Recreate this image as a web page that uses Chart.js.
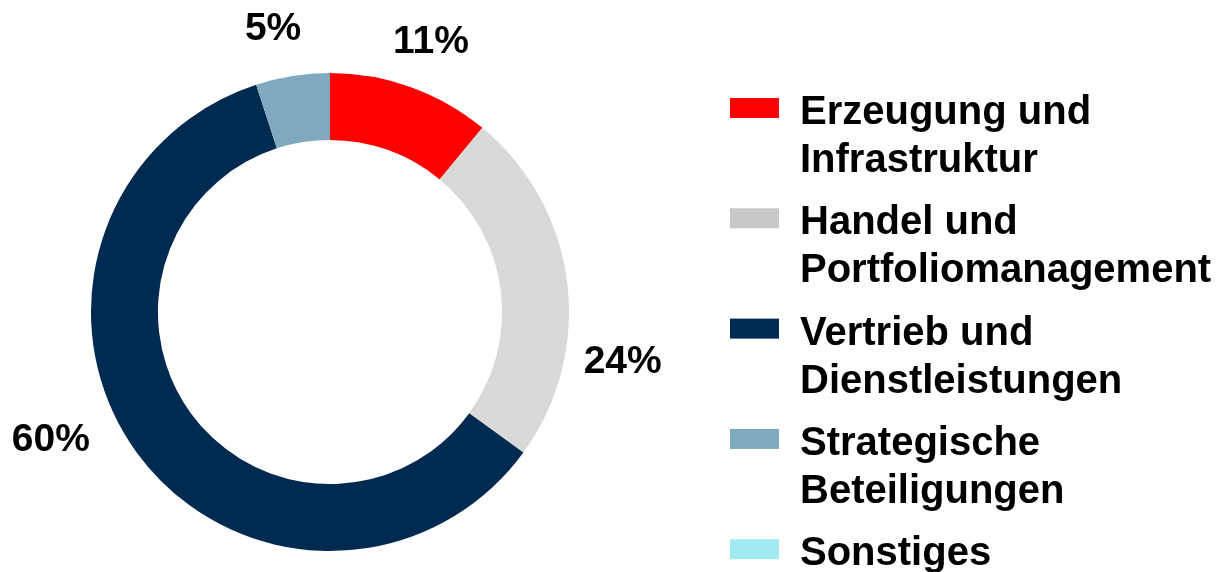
<!DOCTYPE html>
<html>
<head>
<meta charset="utf-8">
<script src="https://cdn.jsdelivr.net/npm/chart.js@4"></script>
<style>
  html, body { margin: 0; padding: 0; background: #fff; }
  #wrap { width: 1218px; height: 572px; }
</style>
</head>
<body>
<div id="wrap"><canvas id="js--chart"></canvas></div>
<script>
const categories = [
  ["Erzeugung und", "Infrastruktur"],
  ["Handel und", "Portfoliomanagement"],
  ["Vertrieb und", "Dienstleistungen"],
  ["Strategische", "Beteiligungen"],
  ["Sonstiges"]
];
const shares = [11, 24, 60, 5, 0];
const sliceColors = ['#FF0000', '#D9D9D9', '#002A50', '#7FA9BF', '#A0EAF0'];
const legendColors = ['#FF0000', '#C7C8CA', '#002A50', '#7FA9BF', '#A0EAF0'];

const FONT = '"Liberation Sans", Arial, sans-serif';

// percentage labels outside the ring
const pctLabels = {
  id: 'pctLabels',
  afterDatasetsDraw(chart, args, opts) {
    const ctx = chart.ctx;
    const meta = chart.getDatasetMeta(0);
    ctx.save();
    ctx.font = 'bold 39px ' + FONT;
    ctx.fillStyle = '#000';
    ctx.textAlign = 'center';
    ctx.textBaseline = 'middle';
    meta.data.forEach(function (arc, i) {
      const v = chart.data.datasets[0].data[i];
      if (!v) return;
      const mid = (arc.startAngle + arc.endAngle) / 2 + (opts.nudge[i] || 0) * Math.PI / 180;
      const r = arc.outerRadius + opts.gap[i];
      ctx.fillText(v + '%', arc.x + Math.cos(mid) * r, arc.y + Math.sin(mid) * r);
    });
    ctx.restore();
  }
};

// legend on the right, two-line entries
const sideLegend = {
  id: 'sideLegend',
  afterDraw(chart, args, opts) {
    const ctx = chart.ctx;
    ctx.save();
    ctx.font = 'bold 40px ' + FONT;
    ctx.fillStyle = '#000';
    ctx.textBaseline = 'alphabetic';
    chart.data.labels.forEach(function (lines, i) {
      const cy = opts.top + i * opts.step;
      ctx.fillStyle = legendColors[i];
      ctx.fillRect(opts.x, cy - 10, 49, 20);
      ctx.fillStyle = '#000';
      lines.forEach(function (line, j) {
        ctx.fillText(line, opts.textX, cy + 16 + j * 48);
      });
    });
    ctx.restore();
  }
};

new Chart(document.getElementById('js--chart'), {
  type: 'doughnut',
  data: {
    labels: categories,
    datasets: [{
      data: shares,
      backgroundColor: sliceColors,
      borderWidth: 0
    }]
  },
  options: {
    responsive: true,
    maintainAspectRatio: false,
    animation: false,
    cutout: '72%',
    layout: { padding: { left: 91, top: 73, right: 649, bottom: 21 } },
    plugins: {
      legend: { display: false },
      tooltip: { enabled: false },
      pctLabels: { nudge: [0.7, 17, 11.4, -2.4, 0], gap: [49, 58, 68, 49, 0] },
      sideLegend: { x: 730, textX: 800, top: 108, step: 110.3 }
    }
  },
  plugins: [pctLabels, sideLegend]
});
</script>
</body>
</html>
